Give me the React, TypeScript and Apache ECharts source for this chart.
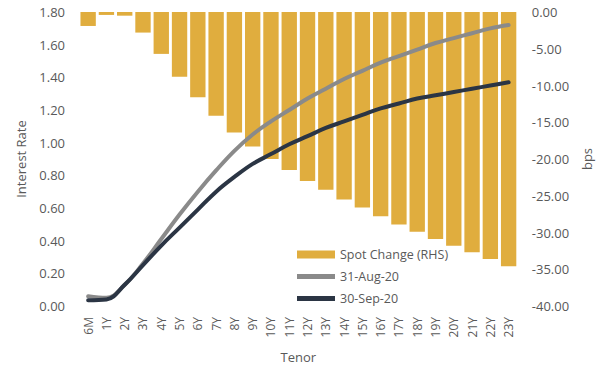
import React, { useEffect, useRef } from "react";
import * as echarts from "echarts";

const tenors = ["6M","1Y","2Y","3Y","4Y","5Y","6Y","7Y","8Y","9Y","10Y","11Y","12Y","13Y","14Y","15Y","16Y","17Y","18Y","19Y","20Y","21Y","22Y","23Y"];
const spotChange = [-1.9,-0.4,-0.5,-2.8,-5.7,-8.8,-11.6,-14.1,-16.4,-18.3,-20.0,-21.5,-23.0,-24.2,-25.5,-26.6,-27.8,-28.9,-29.9,-30.9,-31.8,-32.7,-33.6,-34.6];
const aug31 = [0.06,0.05,0.13,0.26,0.41,0.56,0.70,0.83,0.95,1.05,1.13,1.20,1.27,1.33,1.39,1.44,1.49,1.53,1.57,1.61,1.64,1.67,1.70,1.72];
const sep30 = [0.035,0.04,0.13,0.25,0.37,0.48,0.59,0.70,0.79,0.87,0.93,0.99,1.04,1.09,1.13,1.17,1.21,1.24,1.27,1.29,1.31,1.33,1.35,1.37];

const FONT = "Open Sans";
const TXT = "#595959";
const LINE_ICON = "path://M0,0 M38,8 M0,1.5 L38,1.5 L38,6.5 L0,6.5 Z";

export default function App() {
  const ref = useRef<HTMLDivElement>(null);
  useEffect(() => {
    document.body.style.margin = "0";
    const chart = echarts.init(ref.current!, null, { renderer: "svg" });
    chart.setOption({
      animation: false,
      textStyle: { fontFamily: FONT },
      grid: { left: 79, right: 67.5, top: 12, bottom: 61 },
      legend: {
        orient: "vertical",
        left: 292,
        top: 243,
        itemWidth: 38,
        itemHeight: 8,
        itemGap: 9,
        textStyle: { fontFamily: FONT, fontSize: 12.5, color: TXT },
        data: [
          { name: "Spot Change (RHS)", icon: "rect" },
          { name: "31-Aug-20", icon: LINE_ICON },
          { name: "30-Sep-20", icon: LINE_ICON },
        ],
      },
      xAxis: {
        type: "category",
        data: tenors,
        name: "Tenor",
        nameLocation: "middle",
        nameGap: 44,
        nameTextStyle: { fontFamily: FONT, fontSize: 13, color: TXT },
        axisLine: { show: false },
        axisTick: { show: false },
        axisLabel: { rotate: 90, fontFamily: FONT, fontSize: 12, color: TXT, margin: 11, interval: 0 },
      },
      yAxis: [
        {
          type: "value",
          min: 0,
          max: 1.8,
          interval: 0.2,
          name: "Interest Rate",
          nameLocation: "middle",
          nameRotate: 90,
          nameGap: 52,
          nameTextStyle: { fontFamily: FONT, fontSize: 13, color: TXT },
          splitLine: { show: false },
          axisLine: { show: false },
          axisTick: { show: false },
          axisLabel: { fontFamily: FONT, fontSize: 13, color: TXT, margin: 14, formatter: (v: number) => v.toFixed(2) },
        },
        {
          type: "value",
          min: -40,
          max: 0,
          interval: 5,
          name: "bps",
          nameLocation: "middle",
          nameRotate: 90,
          nameGap: 60,
          nameTextStyle: { fontFamily: FONT, fontSize: 13, color: TXT },
          splitLine: { show: false },
          axisLine: { show: false },
          axisTick: { show: false },
          axisLabel: { fontFamily: FONT, fontSize: 13, color: TXT, margin: 14, formatter: (v: number) => v.toFixed(2) },
        },
      ],
      series: [
        {
          name: "Spot Change (RHS)",
          type: "bar",
          yAxisIndex: 1,
          data: spotChange,
          barCategoryGap: "16%",
          itemStyle: { color: "#E0AD3E" },
        },
        {
          name: "31-Aug-20",
          type: "line",
          yAxisIndex: 0,
          data: aug31,
          smooth: 0.4,
          symbol: "none",
          lineStyle: { color: "#8A8A8A", width: 4, cap: "round" },
          itemStyle: { color: "#8A8A8A" },
        },
        {
          name: "30-Sep-20",
          type: "line",
          yAxisIndex: 0,
          data: sep30,
          smooth: 0.4,
          symbol: "none",
          lineStyle: { color: "#2B3544", width: 4, cap: "round" },
          itemStyle: { color: "#2B3544" },
        },
      ],
    });
    return () => chart.dispose();
  }, []);
  return <div ref={ref} style={{ width: 601, height: 368 }} />;
}
